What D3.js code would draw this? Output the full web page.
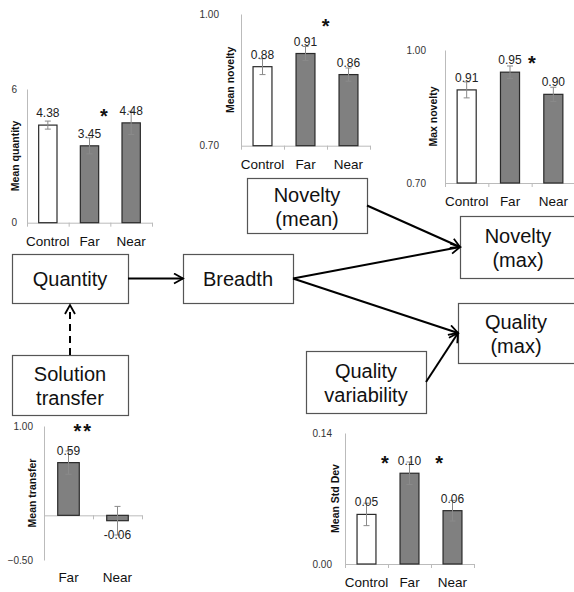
<!DOCTYPE html>
<html>
<head>
<meta charset="utf-8">
<script src="https://cdn.jsdelivr.net/npm/d3@7"></script>
<style>
body { margin: 0; background: #fff; }
svg { display: block; font-family: "Liberation Sans", Arial, sans-serif; }
</style>
</head>
<body>
<div id="fig"></div>
<script>
// data
var groups = ["Control", "Far", "Near"];
var transferGroups = ["Far", "Near"];

var quantityVals = [4.38, 3.45, 4.48];
var quantityErr = [0.18, 0.36, 0.52];
var quantityTicks = [0, 6];

var noveltyMeanVals = [0.88, 0.91, 0.862];
var noveltyMeanErr = [0.018, 0.016, 0.015];
var noveltyMaxVals = [0.91, 0.95, 0.90];
var noveltyMaxErr = [0.018, 0.014, 0.016];
var noveltyTicks = [0.70, 1.00];

var transferVals = [0.59, -0.06];
var transferErr = [0.13, 0.16];
var transferTicks = [-0.50, 1.00];

var stdDevVals = [0.053, 0.097, 0.057];
var stdDevErr = [0.012, 0.012, 0.011];
var stdDevTicks = [0.00, 0.14];

// significance marks: category they sit after, offset in steps, height in data units
var quantityStars = [{cat: "Far", dx: 0.37, v: 4.96, s: "*"}];
var noveltyMeanStars = [{cat: "Far", dx: 0.49, v: 0.982, s: "*"}];
var noveltyMaxStars = [{cat: "Far", dx: 0.53, v: 0.98, s: "*"}];
var transferStars = [{cat: "Far", dx: 0.3, v: 0.99, s: "**"}];
var stdDevStars = [{cat: "Control", dx: 0.45, v: 0.112, s: "*"}, {cat: "Far", dx: 0.71, v: 0.112, s: "*"}];

var boxLabels = {
  quantity: ["Quantity"],
  breadth: ["Breadth"],
  novMean: ["Novelty", "(mean)"],
  novMax: ["Novelty", "(max)"],
  qualMax: ["Quality", "(max)"],
  transfer: ["Solution", "transfer"],
  qualVar: ["Quality", "variability"]
};

var W = 574, H = 592;
var svg = d3.select("#fig").append("svg").attr("width", W).attr("height", H);

svg.append("defs").append("marker")
  .attr("id", "arr")
  .attr("markerUnits", "userSpaceOnUse")
  .attr("markerWidth", 14).attr("markerHeight", 14)
  .attr("refX", 10).attr("refY", 6)
  .attr("orient", "auto")
  .append("path")
  .attr("d", "M1,1L10,6L1,11")
  .attr("fill", "none")
  .attr("stroke", "#000")
  .attr("stroke-width", 1.8);

function drawBars(cfg) {
  var data = cfg.cats.map(function(c, i) { return {cat: c, v: cfg.vals[i], e: cfg.errs[i]}; });
  var x = d3.scaleBand().domain(cfg.cats).range([cfg.x0, cfg.x1]).paddingInner(0.56).paddingOuter(0.28);
  var y = d3.scaleLinear().domain(cfg.domain).range([cfg.yb, cfg.yt]);
  var base = cfg.domain[0] < 0 ? y(0) : y(cfg.domain[0]);
  var g = svg.append("g");

  // y axis
  var ya = g.append("g")
    .attr("transform", "translate(" + cfg.x0 + ",0)")
    .call(d3.axisLeft(y).tickValues(cfg.ticks).tickSize(0).tickPadding(cfg.tickGap).tickFormat(d3.format(cfg.fmt)));
  ya.select(".domain").attr("stroke", "#bbb");
  ya.selectAll("text").attr("font-size", 10).attr("fill", "#333").attr("font-family", null);

  // x axis, ticks between the bars
  var xi = d3.scaleLinear().domain([0, cfg.cats.length]).range([cfg.x0, cfg.x1]);
  var xa = g.append("g")
    .attr("transform", "translate(0," + base + ")")
    .call(d3.axisBottom(xi).tickValues(d3.range(cfg.cats.length + 1)).tickSize(4).tickSizeOuter(0).tickFormat(""));
  xa.select(".domain").attr("stroke", "#bbb");
  xa.selectAll(".tick line").attr("stroke", "#bbb");

  // y label
  g.append("text")
    .attr("transform", "translate(" + (cfg.x0 - cfg.labelGap) + "," + ((cfg.yt + cfg.yb) / 2) + ") rotate(-90)")
    .attr("text-anchor", "middle")
    .attr("dy", "0.35em")
    .attr("font-size", 10.5)
    .attr("font-weight", "bold")
    .attr("fill", "#111")
    .text(cfg.ylabel);

  g.selectAll(".bar").data(data).enter().append("rect")
    .attr("x", function(d) { return x(d.cat); })
    .attr("width", x.bandwidth())
    .attr("y", function(d) { return Math.min(y(d.v), base); })
    .attr("height", function(d) { return Math.abs(y(d.v) - base); })
    .attr("fill", function(d) { return d.cat == "Control" ? "#fff" : "#808080"; })
    .attr("stroke", "#2a2a2a")
    .attr("stroke-width", 1.2);

  // error bars
  var eb = g.selectAll(".err").data(data).enter().append("g").attr("stroke", "#8a8a8a").attr("stroke-width", 1);
  eb.append("line")
    .attr("x1", function(d) { return x(d.cat) + x.bandwidth() / 2; })
    .attr("x2", function(d) { return x(d.cat) + x.bandwidth() / 2; })
    .attr("y1", function(d) { return y(d.v - d.e); })
    .attr("y2", function(d) { return y(d.v + d.e); });
  [-1, 1].forEach(function(k) {
    eb.append("line")
      .attr("x1", function(d) { return x(d.cat) + x.bandwidth() / 2 - 3; })
      .attr("x2", function(d) { return x(d.cat) + x.bandwidth() / 2 + 3; })
      .attr("y1", function(d) { return y(d.v + k * d.e); })
      .attr("y2", function(d) { return y(d.v + k * d.e); });
  });

  // value labels
  g.selectAll(".val").data(data).enter().append("text")
    .attr("x", function(d) { return x(d.cat) + x.bandwidth() / 2; })
    .attr("y", function(d) { return d.v >= 0 ? y(d.v) - 8 : y(d.v) + 18; })
    .attr("text-anchor", "middle")
    .attr("font-size", 12)
    .attr("fill", "#222")
    .text(function(d) { return d.v.toFixed(2); });

  // category labels
  g.selectAll(".cat").data(cfg.cats).enter().append("text")
    .attr("x", function(d) { return x(d) + x.bandwidth() / 2; })
    .attr("y", cfg.yb + cfg.catGap)
    .attr("text-anchor", "middle")
    .attr("font-size", 13.5)
    .attr("fill", "#111")
    .text(function(d) { return d; });

  // stars
  g.selectAll(".star").data(cfg.stars).enter().append("text")
    .attr("x", function(d) { return x(d.cat) + x.bandwidth() / 2 + d.dx * x.step(); })
    .attr("y", function(d) { return y(d.v); })
    .attr("dy", "0.55em")
    .attr("text-anchor", "middle")
    .attr("font-size", 20)
    .attr("font-weight", "bold")
    .attr("letter-spacing", 2)
    .attr("fill", "#111")
    .text(function(d) { return d.s; });
}

drawBars({cats: groups, vals: quantityVals, errs: quantityErr, ticks: quantityTicks, fmt: "d",
  domain: [0, 6], x0: 27, x1: 152, yt: 89, yb: 222.7, tickGap: 10, labelGap: 12, catGap: 23,
  ylabel: "Mean quantity", stars: quantityStars});
drawBars({cats: groups, vals: noveltyMeanVals, errs: noveltyMeanErr, ticks: noveltyTicks, fmt: ".2f",
  domain: [0.7, 1.0], x0: 241, x1: 370, yt: 14, yb: 145.7, tickGap: 22, labelGap: 11, catGap: 23,
  ylabel: "Mean novelty", stars: noveltyMeanStars});
drawBars({cats: groups, vals: noveltyMaxVals, errs: noveltyMaxErr, ticks: noveltyTicks, fmt: ".2f",
  domain: [0.7, 1.0], x0: 445, x1: 575, yt: 50, yb: 183, tickGap: 19, labelGap: 12, catGap: 23,
  ylabel: "Max novelty", stars: noveltyMaxStars});
drawBars({cats: transferGroups, vals: transferVals, errs: transferErr, ticks: transferTicks, fmt: ".2f",
  domain: [-0.5, 1.0], x0: 44, x1: 142, yt: 426, yb: 560, tickGap: 11, labelGap: 12, catGap: 22,
  ylabel: "Mean transfer", stars: transferStars});
drawBars({cats: groups, vals: stdDevVals, errs: stdDevErr, ticks: stdDevTicks, fmt: ".2f",
  domain: [0, 0.14], x0: 345, x1: 474, yt: 433, yb: 564, tickGap: 13, labelGap: 10, catGap: 23,
  ylabel: "Mean Std Dev", stars: stdDevStars});

// path diagram boxes
var boxPos = {
  quantity: [12, 254, 116, 49],
  breadth: [183, 254, 110, 49],
  novMean: [247, 178, 120, 55],
  novMax: [460, 216, 120, 62],
  qualMax: [458, 303, 122, 60],
  transfer: [12, 355, 116, 60],
  qualVar: [306, 351, 120, 62]
};
Object.keys(boxPos).forEach(function(k) {
  var b = boxPos[k], lines = boxLabels[k];
  var cx = k == "novMax" || k == "qualMax" ? b[0] + 58 : b[0] + b[2] / 2;
  var cy = b[1] + b[3] / 2;
  svg.append("rect")
    .attr("x", b[0] + 0.5).attr("y", b[1] + 0.5)
    .attr("width", b[2]).attr("height", b[3])
    .attr("fill", "#fff").attr("stroke", "#555").attr("stroke-width", 1.2);
  lines.forEach(function(t, i) {
    svg.append("text")
      .attr("x", cx)
      .attr("y", lines.length == 1 ? cy + 7 : cy - 4 + i * 24)
      .attr("text-anchor", "middle")
      .attr("font-size", 20)
      .attr("fill", "#111")
      .text(t);
  });
});

function side(k, s) {
  var b = boxPos[k];
  if (s == "r") return [b[0] + b[2], b[1] + b[3] / 2];
  if (s == "l") return [b[0], b[1] + b[3] / 2];
  if (s == "t") return [b[0] + b[2] / 2, b[1]];
  return [b[0] + b[2] / 2, b[1] + b[3]];
}
var arrows = [
  [side("quantity", "r"), side("breadth", "l"), false],
  [side("transfer", "t"), side("quantity", "b"), true],
  [side("novMean", "r"), side("novMax", "l"), false],
  [side("breadth", "r"), side("novMax", "l"), false],
  [side("breadth", "r"), side("qualMax", "l"), false],
  [side("qualVar", "r"), side("qualMax", "l"), false]
];
arrows.forEach(function(a) {
  svg.append("line")
    .attr("x1", a[0][0]).attr("y1", a[0][1])
    .attr("x2", a[1][0]).attr("y2", a[1][1] + (a[2] ? 2 : 0))
    .attr("stroke", "#000")
    .attr("stroke-width", 2)
    .attr("stroke-dasharray", a[2] ? "7,5" : null)
    .attr("marker-end", "url(#arr)");
});
</script>
</body>
</html>
